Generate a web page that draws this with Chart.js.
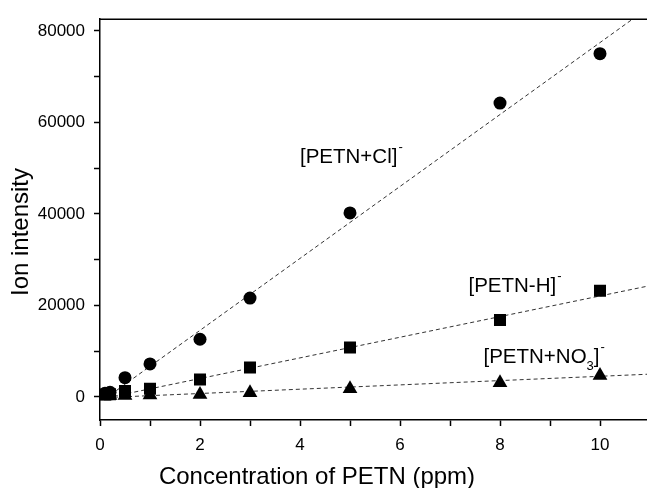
<!DOCTYPE html>
<html>
<head>
<meta charset="utf-8">
<script src="https://cdn.jsdelivr.net/npm/chart.js@4"></script>
<style>
  html, body { margin: 0; padding: 0; background: #fff; overflow: hidden; }
  #wrap { width: 647px; height: 488px; overflow: hidden; }
  canvas { display: block; }
</style>
</head>
<body>
<div id="wrap"><canvas id="myChart" width="656" height="488"></canvas></div>
<script>
// concentrations (ppm)
const conc = [0.1, 0.2, 0.5, 1, 2, 3, 5, 8, 10];
// ion intensities
const clValues = [800, 1000, 4200, 7200, 12600, 21600, 40200, 64200, 75000];
const hValues = [500, 600, 1300, 1800, 3800, 6400, 10800, 16800, 23200];
const no3Values = [200, 300, 300, 400, 500, 900, 1800, 3100, 4700];

// dashed fit lines, end points [x, y]
const clFit = [[0.1, -400], [10.95, 84900]];
const hFit = [[0, -500], [10.95, 24200]];
const no3Fit = [[0, -200], [10.95, 4950]];

// axis ticks
const xTicks = [0, 1, 2, 3, 4, 5, 6, 7, 8, 9, 10];
const xLabels = [0, 2, 4, 6, 8, 10];
const yTicks = [0, 10000, 20000, 30000, 40000, 50000, 60000, 70000, 80000];
const yLabels = [0, 20000, 40000, 60000, 80000];

const xTitle = 'Concentration of PETN (ppm)';
const yTitle = 'Ion intensity';

// in-plot annotations: text, superscript, subscript, anchor [x, y]
const notes = [
  { text: '[PETN+Cl]', sub: '', sup: '-', at: [4.0, 52400] },
  { text: '[PETN-H]', sub: '', sup: '-', at: [7.37, 24200] },
  { text: '[PETN+NO', sub: '3', sup: '-', at: [7.67, 8600], close: ']' }
];

const toPts = (xs, ys) => xs.map((x, i) => ({ x: x, y: ys[i] }));
const fitPts = (f) => f.map((p) => ({ x: p[0], y: p[1] }));

const fontFamily = '"Liberation Sans", Arial, sans-serif';

const frame = {
  id: 'frame',
  afterDraw(chart) {
    const { ctx, chartArea } = chart;
    ctx.save();
    ctx.strokeStyle = '#000';
    ctx.lineWidth = 1.5;
    ctx.beginPath();
    ctx.moveTo(chartArea.left, chartArea.top);
    ctx.lineTo(chartArea.right, chartArea.top);
    ctx.stroke();

    // axis titles
    ctx.fillStyle = '#000';
    ctx.font = '24px ' + fontFamily;
    ctx.textAlign = 'center';
    ctx.textBaseline = 'middle';
    ctx.fillText(xTitle, 317, 477);
    ctx.save();
    ctx.translate(21, 232);
    ctx.rotate(-Math.PI / 2);
    ctx.fillText(yTitle, 0, 0);
    ctx.restore();

    // annotations
    const xs = chart.scales.x;
    const ys = chart.scales.y;
    ctx.textAlign = 'left';
    notes.forEach((n) => {
      let px = xs.getPixelForValue(n.at[0]);
      const py = ys.getPixelForValue(n.at[1]);
      ctx.font = '20.5px ' + fontFamily;
      ctx.fillText(n.text, px, py);
      px += ctx.measureText(n.text).width;
      if (n.sub) {
        ctx.font = '13px ' + fontFamily;
        ctx.fillText(n.sub, px, py + 9);
        px += ctx.measureText(n.sub).width;
      }
      if (n.close) {
        ctx.font = '20.5px ' + fontFamily;
        ctx.fillText(n.close, px, py);
        px += ctx.measureText(n.close).width;
      }
      ctx.font = '13px ' + fontFamily;
      ctx.fillText(n.sup, px + 1, py - 10);
    });
    ctx.restore();
  }
};

const ctx = document.getElementById('myChart');

new Chart(ctx, {
  type: 'scatter',
  data: {
    datasets: [
      {
        label: '[PETN+Cl]-',
        data: toPts(conc, clValues),
        pointStyle: 'circle',
        pointRadius: 6.5,
        backgroundColor: '#000',
        borderColor: '#000',
        borderWidth: 0,
      },
      {
        label: '[PETN-H]-',
        data: toPts(conc, hValues),
        pointStyle: 'rect',
        pointRadius: 8.5,
        backgroundColor: '#000',
        borderColor: '#000',
        borderWidth: 0,
      },
      {
        label: '[PETN+NO3]-',
        data: toPts(conc, no3Values),
        pointStyle: 'triangle',
        pointRadius: 8.5,
        backgroundColor: '#000',
        borderColor: '#000',
        borderWidth: 0,
      },
      {
        label: 'fit Cl',
        type: 'line',
        data: fitPts(clFit),
        showLine: true,
        pointRadius: 0,
        borderColor: '#333',
        borderWidth: 1,
        borderDash: [4, 3],
      },
      {
        label: 'fit H',
        type: 'line',
        data: fitPts(hFit),
        showLine: true,
        pointRadius: 0,
        borderColor: '#333',
        borderWidth: 1,
        borderDash: [4, 3],
      },
      {
        label: 'fit NO3',
        type: 'line',
        data: fitPts(no3Fit),
        showLine: true,
        pointRadius: 0,
        borderColor: '#333',
        borderWidth: 1,
        borderDash: [4, 3],
      },
    ],
  },
  options: {
    responsive: false,
    animation: false,
    events: [],
    layout: { padding: { top: 16, right: 0, left: 0, bottom: 0 } },
    plugins: {
      legend: { display: false },
      tooltip: { enabled: false },
    },
    scales: {
      x: {
        type: 'linear',
        min: 0,
        max: 10.95,
        afterBuildTicks: (scale) => {
          scale.ticks = xTicks.map((v) => ({ value: v }));
        },
        afterFit: (scale) => {
          scale.height = 68;
        },
        ticks: {
          color: '#000',
          font: { family: fontFamily, size: 17 },
          padding: 9,
          maxRotation: 0,
          autoSkip: false,
          callback: (v) => (xLabels.includes(v) ? String(v) : ''),
        },
        grid: {
          drawOnChartArea: false,
          drawTicks: true,
          tickLength: 6,
          tickColor: '#000',
          tickWidth: 1.5,
        },
        border: { display: true, color: '#000', width: 1.5 },
      },
      y: {
        type: 'linear',
        min: -5050,
        max: 82540,
        afterBuildTicks: (scale) => {
          scale.ticks = yTicks.map((v) => ({ value: v }));
        },
        afterFit: (scale) => {
          scale.width = 100;
        },
        ticks: {
          color: '#000',
          font: { family: fontFamily, size: 17 },
          padding: 9,
          autoSkip: false,
          callback: (v) => (yLabels.includes(v) ? String(v) : ''),
        },
        grid: {
          drawOnChartArea: false,
          drawTicks: true,
          tickLength: 6,
          tickColor: '#000',
          tickWidth: 1.5,
        },
        border: { display: true, color: '#000', width: 1.5 },
      },
    },
  },
  plugins: [frame],
});
</script>
</body>
</html>
